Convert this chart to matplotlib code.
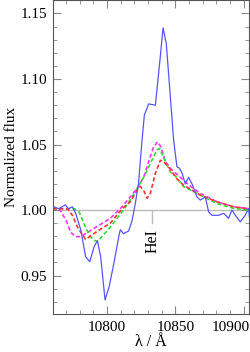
import matplotlib
matplotlib.use("Agg")
import matplotlib.pyplot as plt
import matplotlib.transforms as mtransforms
from matplotlib.ticker import MultipleLocator, FormatStrFormatter

plt.rcParams['font.family'] = ['Liberation Serif', 'DejaVu Serif']
plt.rcParams['mathtext.fontset'] = 'stix'

# Observed He I 10830 profile
obs_wl = [10760, 10764.6, 10769.3, 10771.7, 10774.6, 10777, 10780.7, 10784.3, 10787.3,
          10790.5, 10792.9, 10795.3, 10798.5, 10801.5, 10805, 10808.8, 10809.7, 10812,
          10815.8, 10818.3, 10820.7, 10823, 10825.6, 10827.3, 10830.5, 10835.4, 10839,
          10841, 10843.4, 10848.8, 10851.2, 10853, 10855, 10857.3, 10859.7, 10862.2,
          10865.9, 10868.3, 10872, 10874.4, 10876.9, 10881.7, 10885.4, 10889, 10891.5,
          10894, 10897.6, 10901.2, 10903.7, 10904.4]
obs_flux = [1.003, 1.001, 1.004, 1.001, 1.0025, 0.9975, 0.985, 0.9644, 0.9606,
            0.972, 0.9766, 0.9644, 0.9314, 0.9415, 0.9595, 0.981, 0.985, 0.982,
            0.984, 0.992, 1.005, 1.020, 1.053, 1.0725, 1.081, 1.080, 1.117,
            1.139, 1.127, 1.053, 1.033, 1.032, 1.028, 1.020, 1.025, 1.020,
            1.010, 1.0076, 1.010, 0.9987, 0.996, 0.996, 0.9975, 0.9937, 1.0,
            0.996, 0.991, 0.996, 1.001, 0.994]

# Model profiles
mag_wl = [10760, 10765, 10770, 10773.4, 10777, 10780.7, 10792, 10802.4, 10811, 10822,
          10826.8, 10830.5, 10834, 10837, 10839.5, 10842.7, 10847.6, 10853.7, 10860,
          10868.3, 10880.5, 10892.7, 10904]
mag_flux = [1.001, 1.001, 0.992, 0.983, 0.9797, 0.9797, 0.987, 0.9937, 1.0025, 1.0165,
            1.025, 1.037, 1.048, 1.052, 1.048, 1.037, 1.0305, 1.025, 1.019,
            1.0127, 1.0063, 1.0025, 1.001]

grn_wl = [10760, 10770, 10776, 10779.5, 10783, 10786.8, 10790.5, 10793, 10802.4, 10812,
          10820.7, 10826.8, 10831.7, 10836.6, 10838.5, 10841.4, 10846.3, 10850, 10856,
          10868.3, 10880.5, 10892.7, 10904]
grn_flux = [1.001, 1.001, 1.001, 0.9987, 0.9898, 0.981, 0.977, 0.976, 0.987, 1.0,
            1.014, 1.025, 1.0356, 1.046, 1.047, 1.040, 1.029, 1.026, 1.018,
            1.0114, 1.005, 1.0013, 1.0]

red_wl = [10760, 10767, 10771, 10774.6, 10778.3, 10782, 10784.3, 10793, 10802.4, 10811,
          10817, 10822, 10824.4, 10826.8, 10829.3, 10831.7, 10835.4, 10839, 10841.4,
          10845, 10851, 10856, 10868.3, 10880.5, 10892.7, 10904]
red_flux = [1.001, 1.001, 1.001, 0.996, 0.987, 0.981, 0.9776, 0.984, 0.990, 1.001,
            1.0063, 1.015, 1.018, 1.015, 1.009, 1.0127, 1.028, 1.038, 1.037,
            1.033, 1.024, 1.019, 1.0114, 1.0063, 1.0025, 1.001]

line_wl = 10833
line_name = "HeI"

fig, ax = plt.subplots(figsize=(2.5, 3.52), dpi=100)
plt.subplots_adjust(left=0.21, right=0.996, top=0.999, bottom=0.108)

ax.axhline(1.0, color='#bbbbbb', lw=1, zorder=1)
ax.plot([line_wl, line_wl], [1.0, 0.990], color='#bbbbbb', lw=1, zorder=1)
ax.text(line_wl, 0.9765, line_name, rotation=90, ha='center', va='center', fontsize=11.5)

ax.plot(obs_wl, obs_flux, color='#5555ff', lw=0.9, zorder=3)
ax.plot(mag_wl, mag_flux, color='#ff33ff', lw=1.2, ls=(0, (2.5, 1.5)), zorder=2)
ax.plot(grn_wl, grn_flux, color='#33dd33', lw=1.2, ls=(0, (2.5, 1.5)), zorder=2)
ax.plot(red_wl, red_flux, color='#ff3333', lw=1.2, ls=(0, (2.5, 1.5)), zorder=2)

ax.set_xlim(10760, 10904)
ax.set_ylim(0.9207, 1.160)
ax.xaxis.set_major_locator(MultipleLocator(50))
ax.xaxis.set_minor_locator(MultipleLocator(10))
ax.yaxis.set_major_locator(MultipleLocator(0.05))
ax.yaxis.set_minor_locator(MultipleLocator(0.01))
ax.yaxis.set_major_formatter(FormatStrFormatter('%.2f'))
ax.tick_params(which='both', direction='in', top=True, right=True, color='#888888',
               labelsize=11)
ax.tick_params(which='major', length=6)
ax.tick_params(axis='y', which='major', pad=4)
ax.tick_params(axis='x', which='major', pad=5)
ax.tick_params(which='minor', length=3)
for s in ax.spines.values():
    s.set_color('#555555')

ax.set_xlabel('λ / Å', fontsize=11.5, labelpad=0)
ax.set_ylabel('Normalized flux', fontsize=11, labelpad=2)

# keep the last x label inside the figure, as in the original
fig.canvas.draw()
for lab in ax.get_xticklabels():
    if lab.get_text().replace('\u2212', '-') in ('10900',):
        lab.set_horizontalalignment('right')
        lab.set_transform(lab.get_transform() + mtransforms.ScaledTranslation(6/100, 0, fig.dpi_scale_trans))

plt.savefig("out.png", dpi=100)
